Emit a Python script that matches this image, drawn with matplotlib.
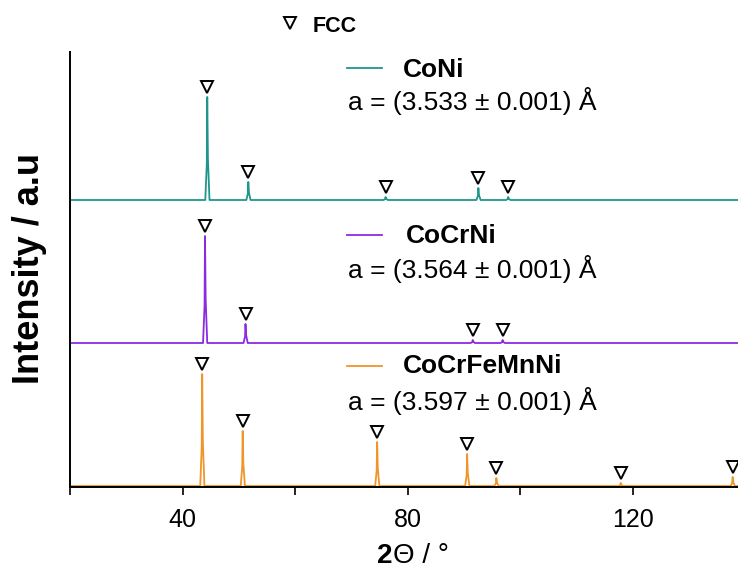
import matplotlib
matplotlib.use("Agg")
import matplotlib.pyplot as plt
from matplotlib.lines import Line2D
import numpy as np

plt.rcParams['font.family'] = ['Liberation Sans', 'DejaVu Sans']

W, H = 738, 571

# peak positions (2theta, deg) and peak heights (a.u.) for each alloy
coni_pos = [44.4, 51.7, 76.1, 92.6, 97.9]
coni_int = [103, 18, 3, 12, 3]
cocrni_pos = [44.0, 51.2, 91.6, 96.9]
cocrni_int = [107, 19, 3, 3]
hea_pos = [43.5, 50.7, 74.6, 90.6, 95.8, 117.9, 137.8]
hea_int = [112, 55, 44, 32, 8, 3, 9]

names = ["CoNi", "CoCrNi", "CoCrFeMnNi"]
lattice = ["a = (3.533 ± 0.001) Å", "a = (3.564 ± 0.001) Å", "a = (3.597 ± 0.001) Å"]
offsets = [287, 144, 1]
colors = ["#1f968b", "#8a2be2", "#f0952a"]

series = [(coni_pos, coni_int), (cocrni_pos, cocrni_int), (hea_pos, hea_int)]


def pattern(pos, inten, base):
    x = [20.0]
    y = [base]
    for p, h in zip(pos, inten):
        x += [p - 0.35, p - 0.08, p, p + 0.12, p + 0.4]
        y += [base, base + 0.35 * h, base + h, base + 0.4 * h, base]
    x.append(140.0)
    y.append(base)
    return np.array(x), np.array(y)


def fx(px):
    return px / W


def fy(py):
    return 1 - py / H


fig = plt.figure(figsize=(W / 100, H / 100), dpi=100)
ax = fig.add_axes([fx(70), fy(487), 675 / W, 435 / H])

for (pos, inten), base, c in zip(series, offsets, colors):
    x, y = pattern(pos, inten, base)
    ax.plot(x, y, color=c, lw=1.3, zorder=2)
    # FCC reflection markers above each peak
    tops = np.array(inten) + base + 10
    ax.plot(pos, tops, ls='none', marker='v', ms=9, mfc='white',
            mec='black', mew=1.4, zorder=3, clip_on=False)

ax.set_xlim(20, 140)
ax.set_ylim(0, 435)
ax.set_yticks([])
ax.set_xticks([20, 40, 60, 80, 100, 120, 140])
ax.set_xticklabels(["", "40", "", "80", "", "120", ""])
ax.tick_params(axis='x', direction='out', length=6, width=1.2, pad=9,
               labelsize=18)
for s in ['top', 'right']:
    ax.spines[s].set_visible(False)
for s in ['left', 'bottom']:
    ax.spines[s].set_linewidth(1.4)

# sample legend entries
legend_y = [(68, 77, 110), (235, 243, 278), (366, 373, 410)]
label_x = [403, 406, 403]
for (ly, nb, ab), lx, name, lat, c in zip(legend_y, label_x, names, lattice, colors):
    fig.add_artist(Line2D([fx(347), fx(382)], [fy(ly), fy(ly)], color=c, lw=1.3))
    fig.text(fx(lx), fy(nb), name, fontsize=19, fontweight='bold', va='baseline')
    fig.text(fx(348), fy(ab), lat, fontsize=19, va='baseline')

# FCC marker key
fig.add_artist(Line2D([fx(290)], [fy(23)], ls='none', marker='v', ms=9,
                      mfc='white', mec='black', mew=1.4))
fig.text(fx(313), fy(32), "FCC", fontsize=15.5, fontweight='bold', va='baseline')

# axis titles
fig.text(fx(30), fy(268), "Intensity / a.u", fontsize=26, fontweight='bold',
         rotation=90, ha='center', va='center')
fig.text(fx(392), fy(563), "2", fontsize=20, fontweight='bold', ha='right', va='baseline')
fig.text(fx(393), fy(563), "Θ / °", fontsize=20, ha='left', va='baseline')

fig.savefig("out.png", dpi=100)
